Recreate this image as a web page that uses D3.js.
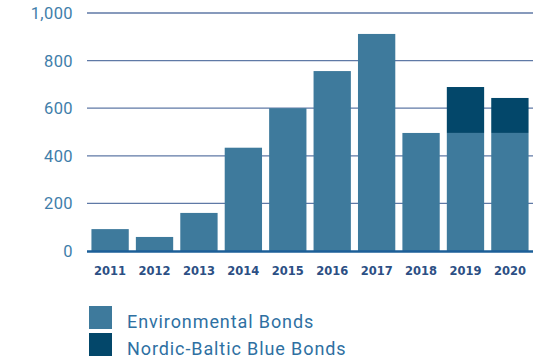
<!DOCTYPE html>
<html>
<head>
<meta charset="utf-8">
<script src="https://cdn.jsdelivr.net/npm/d3@7"></script>
<style>
  body { margin: 0; background: #fff; }
  svg { display: block; }
</style>
</head>
<body>
<div id="chart"></div>
<script>
const years = ['2011', '2012', '2013', '2014', '2015', '2016', '2017', '2018', '2019', '2020'];
const environmental = [92, 59, 160, 434, 600, 756, 912, 496, 496, 496];
const blueBonds = [0, 0, 0, 0, 0, 0, 0, 0, 193, 147];
const yTicks = [0, 200, 400, 600, 800, 1000];
const seriesNames = ['Environmental Bonds', 'Nordic-Baltic Blue Bonds'];
const colors = ['#3e7a9c', '#03476a'];

const width = 546, height = 360;
const svg = d3.select('#chart').append('svg')
  .attr('width', width)
  .attr('height', height);

const x = d3.scaleBand()
  .domain(years)
  .range([87, 533])
  .paddingInner(0.16)
  .paddingOuter(0.1);

const y = d3.scaleLinear()
  .domain([0, 1000])
  .range([251, 13]);

// grid
svg.append('g')
  .selectAll('line')
  .data(yTicks.filter(d => d > 0))
  .enter().append('line')
  .attr('x1', 87).attr('x2', 533)
  .attr('y1', d => y(d)).attr('y2', d => y(d))
  .attr('stroke', '#5f79a6')
  .attr('stroke-width', 1.3);

// y labels
svg.append('g')
  .selectAll('text')
  .data(yTicks)
  .enter().append('text')
  .attr('x', 73)
  .attr('y', d => y(d))
  .attr('dy', '0.36em')
  .attr('text-anchor', 'end')
  .attr('fill', '#3f7eaa')
  .style('font-family', 'Roboto, sans-serif')
  .style('font-size', '16.5px')
  .style('letter-spacing', '0.4px')
  .text(d => d3.format(',')(d));

// stacked bars
const rows = years.map((yr, i) => ({ year: yr, env: environmental[i], blue: blueBonds[i] }));
const stacked = d3.stack().keys(['env', 'blue'])(rows);

const layer = svg.append('g')
  .selectAll('g')
  .data(stacked)
  .enter().append('g')
  .attr('fill', (d, i) => colors[i]);

layer.selectAll('rect')
  .data(d => d.filter(p => p[1] > p[0]))
  .enter().append('rect')
  .attr('x', d => x(d.data.year))
  .attr('y', d => y(d[1]))
  .attr('width', x.bandwidth())
  .attr('height', d => y(d[0]) - y(d[1]));

// baseline
svg.append('line')
  .attr('x1', 87).attr('x2', 533)
  .attr('y1', y(0) + 0.5).attr('y2', y(0) + 0.5)
  .attr('stroke', '#1c5f98')
  .attr('stroke-width', 2.5);

// x labels
svg.append('g')
  .selectAll('text')
  .data(years)
  .enter().append('text')
  .attr('x', d => x(d) + x.bandwidth() / 2)
  .attr('y', 275)
  .attr('text-anchor', 'middle')
  .attr('fill', '#2c4f84')
  .style('font-family', '"DejaVu Sans", sans-serif')
  .style('font-weight', 'bold')
  .style('font-size', '11.5px')
  .text(d => d);

// legend
const legend = svg.append('g')
  .selectAll('g')
  .data(seriesNames)
  .enter().append('g')
  .attr('transform', (d, i) => 'translate(89,' + (306 + i * 27) + ')');

legend.append('rect')
  .attr('width', 23)
  .attr('height', 23)
  .attr('fill', (d, i) => colors[i]);

legend.append('text')
  .attr('x', 38)
  .attr('y', 22)
  .attr('fill', '#2e70a2')
  .style('font-family', 'Roboto, sans-serif')
  .style('font-size', '18px')
  .style('letter-spacing', '0.9px')
  .text(d => d);
</script>
</body>
</html>
